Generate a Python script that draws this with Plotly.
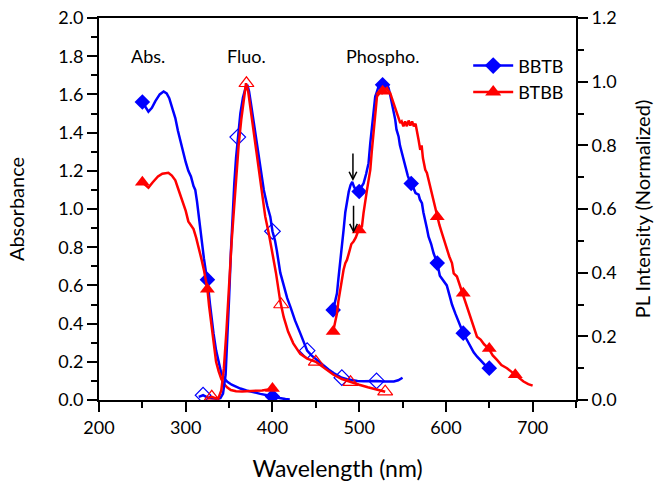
import plotly.graph_objects as go

# ---------------- data ----------------
# Absorption (left axis)
bbtb_abs_x = [250, 254, 257, 261, 265, 270, 274.5, 278, 281, 285, 288, 291, 294, 297, 300, 303, 306, 309, 311, 313,
              315, 317, 319, 321, 323, 325, 328, 330, 332, 335, 338, 341, 344, 348, 353, 358, 363, 370, 378, 386,
              394, 400, 408, 415, 420]
bbtb_abs_y = [1.56, 1.53, 1.51, 1.53, 1.565, 1.60, 1.615, 1.605, 1.58, 1.52, 1.476, 1.41, 1.35, 1.30, 1.245, 1.20,
              1.17, 1.12, 1.10, 1.04, 0.96, 0.90, 0.82, 0.74, 0.68, 0.63, 0.50, 0.42, 0.35, 0.26, 0.19, 0.14, 0.115,
              0.095, 0.08, 0.068, 0.06, 0.05, 0.04, 0.032, 0.025, 0.018, 0.01, 0.005, 0.003]
btbb_abs_x = [250, 254, 257, 262, 268, 273, 277, 280, 284, 288, 291, 294, 297, 300, 303, 306, 309, 312, 315, 318,
              321, 323, 325, 327, 329, 331, 333, 335, 338, 341, 344, 348, 352, 358, 365, 372, 380, 388, 395, 400]
btbb_abs_y = [1.14, 1.125, 1.112, 1.14, 1.17, 1.185, 1.19, 1.19, 1.175, 1.15, 1.11, 1.07, 1.02, 0.99, 0.935, 0.915,
              0.895, 0.85, 0.80, 0.74, 0.68, 0.63, 0.58, 0.49, 0.41, 0.33, 0.26, 0.20, 0.15, 0.11, 0.085, 0.065,
              0.052, 0.046, 0.045, 0.046, 0.048, 0.05, 0.055, 0.06]
bbtb_abs_mx = [250, 325, 400]
bbtb_abs_my = [1.56, 0.63, 0.018]
btbb_abs_mx = [250, 325, 400]
btbb_abs_my = [1.14, 0.58, 0.06]

# Fluorescence (right axis, normalized)
bbtb_fl_x = [315, 320, 325, 330, 335, 340, 343, 346, 348, 350, 352, 354, 356, 358, 360, 363, 366, 369, 371, 373,
             375, 378, 382, 386, 390, 394, 397.5, 400, 403, 405, 409, 413, 417, 421, 426, 432, 436, 440, 445, 451,
             458, 465, 471, 476, 480, 486, 492, 498, 505, 512, 520, 528, 535, 540, 545, 550]
bbtb_fl_y = [0.01, 0.015, 0.008, 0.005, 0.004, 0.006, 0.02, 0.08, 0.18, 0.32, 0.46, 0.58, 0.68, 0.76, 0.826, 0.90,
             0.95, 0.98, 0.99, 0.97, 0.935, 0.88, 0.80, 0.723, 0.66, 0.61, 0.576, 0.53, 0.50, 0.47, 0.40, 0.36, 0.32,
             0.29, 0.25, 0.21, 0.18, 0.155, 0.14, 0.126, 0.11, 0.095, 0.084, 0.076, 0.07, 0.065, 0.062, 0.06, 0.059,
             0.06, 0.06, 0.058, 0.058, 0.058, 0.062, 0.07]
btbb_fl_x = [325, 330, 335, 338, 341, 344, 347, 350, 353, 355, 358, 361, 364, 367, 369.5, 372, 374, 376.4, 380, 384,
             388, 391.7, 396, 400, 404, 409, 413, 418, 424, 432, 440, 450, 460, 470, 480, 490, 500, 510, 520, 530]
btbb_fl_y = [0.005, 0.01, 0.005, 0.008, 0.03, 0.10, 0.22, 0.38, 0.50, 0.576, 0.70, 0.80, 0.88, 0.95, 0.995, 0.97,
             0.93, 0.88, 0.80, 0.723, 0.65, 0.576, 0.52, 0.46, 0.40, 0.31, 0.26, 0.215, 0.178, 0.145, 0.13, 0.12,
             0.10, 0.08, 0.066, 0.056, 0.048, 0.04, 0.032, 0.026]
bbtb_fl_mx = [320, 360, 400, 440, 480, 520]
bbtb_fl_my = [0.015, 0.826, 0.53, 0.155, 0.07, 0.06]
btbb_fl_mx = [330, 370, 410, 450, 490, 530]
btbb_fl_my = [0.01, 0.995, 0.30, 0.12, 0.056, 0.026]

# Phosphorescence (right axis, normalized)
bbtb_ph_x = [470, 472, 474.4, 476, 478.2, 480, 482, 484, 486, 488, 490, 492, 494, 496, 499.3, 502, 505, 508, 510.8,
             512.8, 514, 515.9, 517, 518.5, 520, 522.4, 524, 526.3, 528, 530, 532, 533.9, 536, 537.8, 540, 541.6,
             543, 545.4, 547, 549.3, 552, 554.3, 556, 559, 562, 565, 568.5, 570, 572.4, 574, 576.2, 578, 580, 583,
             585.8, 590, 593, 597, 601, 604, 607, 610.8, 614, 617, 620, 624, 628, 632, 636, 641.5, 645, 650]
bbtb_ph_y = [0.283, 0.31, 0.335, 0.38, 0.43, 0.48, 0.534, 0.59, 0.63, 0.655, 0.675, 0.685, 0.67, 0.66, 0.655, 0.668,
             0.68, 0.71, 0.744, 0.807, 0.84, 0.88, 0.92, 0.953, 0.965, 0.985, 0.99, 0.996, 0.99, 0.985, 0.99, 0.98,
             0.955, 0.933, 0.90, 0.88, 0.85, 0.828, 0.80, 0.775, 0.75, 0.723, 0.705, 0.683, 0.67, 0.65, 0.645, 0.63,
             0.618, 0.59, 0.566, 0.54, 0.513, 0.49, 0.461, 0.43, 0.39, 0.375, 0.36, 0.33, 0.30, 0.272, 0.25, 0.23,
             0.21, 0.19, 0.168, 0.15, 0.136, 0.12, 0.11, 0.10]
btbb_ph_x = [470, 472, 474.4, 476, 478.2, 480, 482, 484, 485.9, 488, 489.7, 491, 493.5, 496, 499.3, 501, 503.2, 505,
             507, 509, 510.8, 512.8, 514.5, 516.6, 518.5, 520.5, 522.4, 524.3, 526, 528, 530, 532, 534, 535.8, 537.5,
             539.6, 541.5, 543.5, 545.5, 547.4, 549, 551, 553, 555, 557, 559, 561, 563, 565, 566.6, 568.5, 570.4,
             572, 573.5, 576.2, 578.1, 581, 583.9, 587, 589.7, 592.5, 595.4, 598, 601.2, 604, 607, 609, 612.7, 616,
             619.8, 624, 628, 632, 635.8, 640, 644, 649.2, 654, 658.9, 664, 670.4, 675, 680, 685, 689.5, 695, 700]
btbb_ph_y = [0.215, 0.24, 0.272, 0.31, 0.346, 0.38, 0.409, 0.43, 0.44, 0.46, 0.482, 0.49, 0.498, 0.51, 0.534, 0.54,
             0.545, 0.587, 0.63, 0.66, 0.69, 0.723, 0.78, 0.849, 0.912, 0.953, 0.96, 0.969, 0.965, 0.98, 0.975, 0.98,
             0.97, 0.964, 0.95, 0.933, 0.915, 0.90, 0.88, 0.87, 0.875, 0.86, 0.875, 0.86, 0.878, 0.862, 0.875, 0.86,
             0.868, 0.849, 0.817, 0.786, 0.80, 0.76, 0.723, 0.713, 0.68, 0.65, 0.61, 0.576, 0.55, 0.524, 0.50, 0.472,
             0.45, 0.43, 0.398, 0.388, 0.36, 0.335, 0.30, 0.262, 0.23, 0.199, 0.19, 0.175, 0.162, 0.14, 0.126, 0.11,
             0.10, 0.09, 0.079, 0.068, 0.058, 0.05, 0.045]
bbtb_ph_mx = [470, 500, 527, 560, 590, 620, 650]
bbtb_ph_my = [0.283, 0.655, 0.99, 0.68, 0.43, 0.21, 0.10]
btbb_ph_mx = [470, 500, 527, 590, 620, 650, 680]
btbb_ph_my = [0.215, 0.534, 0.97, 0.576, 0.335, 0.162, 0.079]

series_names = ["BBTB", "BTBB"]
region_labels = ["Abs.", "Fluo.", "Phospho."]
region_label_x = [257, 370, 527]
region_label_y = [1.80, 1.80, 1.80]
arrow_x = [492.8, 493.5]
arrow_y = [0.688, 0.524]

# ---------------- figure ----------------
BLUE = "#0000FF"
RED = "#FF0000"
FONT = "Lato, 'Open Sans', sans-serif"
LW = 2.5

fig = go.Figure()

def line(x, y, color, yaxis):
    fig.add_trace(go.Scatter(x=x, y=y, mode="lines", line=dict(color=color, width=LW),
                             yaxis=yaxis, showlegend=False, hoverinfo="skip"))

def marks(x, y, color, symbol, size, yaxis, open_=False):
    if open_:
        mk = dict(symbol=symbol + "-open", size=size, color=color, line=dict(color=color, width=1.2))
    else:
        mk = dict(symbol=symbol, size=size, color=color, line=dict(width=0))
    fig.add_trace(go.Scatter(x=x, y=y, mode="markers", marker=mk, yaxis=yaxis,
                             showlegend=False, hoverinfo="skip"))

# BBTB (blue)
line(bbtb_abs_x, bbtb_abs_y, BLUE, "y")
marks(bbtb_abs_mx, bbtb_abs_my, BLUE, "diamond", 12, "y")
line(bbtb_fl_x, bbtb_fl_y, BLUE, "y2")
marks(bbtb_fl_mx, bbtb_fl_my, BLUE, "diamond", 12, "y2", open_=True)
line(bbtb_ph_x, bbtb_ph_y, BLUE, "y2")
marks(bbtb_ph_mx, bbtb_ph_my, BLUE, "diamond", 12, "y2")

# BTBB (red)
line(btbb_abs_x, btbb_abs_y, RED, "y")
marks(btbb_abs_mx, btbb_abs_my, RED, "triangle-up", 13, "y")
line(btbb_fl_x, btbb_fl_y, RED, "y2")
marks(btbb_fl_mx, btbb_fl_my, RED, "triangle-up", 13, "y2", open_=True)
line(btbb_ph_x, btbb_ph_y, RED, "y2")
marks(btbb_ph_mx, btbb_ph_my, RED, "triangle-up", 13, "y2")

# legend entries
fig.add_trace(go.Scatter(x=[None], y=[None], mode="lines+markers", name=series_names[0],
                         line=dict(color=BLUE, width=LW), marker=dict(symbol="diamond", size=13, color=BLUE)))
fig.add_trace(go.Scatter(x=[None], y=[None], mode="lines+markers", name=series_names[1],
                         line=dict(color=RED, width=LW), marker=dict(symbol="triangle-up", size=14, color=RED)))

annotations = []
for t, x, y in zip(region_labels, region_label_x, region_label_y):
    annotations.append(dict(text=t, x=x, y=y, xref="x", yref="y", showarrow=False,
                            font=dict(size=18, color="black", family=FONT)))
for x, y in zip(arrow_x, arrow_y):
    annotations.append(dict(text="", x=x, y=y, xref="x", yref="y2", showarrow=True,
                            ax=0, ay=-29, arrowhead=5, arrowsize=1, arrowwidth=1.5,
                            arrowcolor="black"))

axis_common = dict(showline=True, linewidth=2, linecolor="black", ticks="outside", ticklen=10,
                   tickwidth=2, tickcolor="black", showgrid=False, zeroline=False, automargin=False,
                   tickfont=dict(size=18, color="black", family=FONT))

fig.update_layout(
    width=659, height=491,
    margin=dict(l=99, r=83, t=18, b=91, autoexpand=False),
    paper_bgcolor="white", plot_bgcolor="white",
    font=dict(family=FONT, color="black"),
    xaxis=dict(range=[200, 750], tick0=200, dtick=100, mirror=True,
               minor=dict(dtick=50, ticks="outside", ticklen=6, tickwidth=2, tickcolor="black"),
               title=dict(text="Wavelength (nm)", font=dict(size=23, family=FONT), standoff=24),
               **axis_common),
    yaxis=dict(range=[0, 2], tick0=0, dtick=0.2, tickformat=".1f",
               minor=dict(dtick=0.1, ticks="outside", ticklen=6, tickwidth=2, tickcolor="black"),
               title=dict(text="Absorbance", font=dict(size=20, family=FONT), standoff=28),
               **axis_common),
    yaxis2=dict(range=[0, 1.2], tick0=0, dtick=0.2, tickformat=".1f", overlaying="y", side="right",
                minor=dict(dtick=0.1, ticks="outside", ticklen=6, tickwidth=2, tickcolor="black"),
                title=dict(text="PL Intensity (Normalized)", font=dict(size=20, family=FONT), standoff=20),
                **axis_common),
    legend=dict(x=0.774, y=0.923, xanchor="left", yanchor="top", bgcolor="rgba(0,0,0,0)",
                font=dict(size=18, color="black", family=FONT), tracegroupgap=0, itemwidth=40),
    annotations=annotations,
)

fig.write_html("out.html", config={"displayModeBar": False},
               post_script="document.body.style.margin='0';")
